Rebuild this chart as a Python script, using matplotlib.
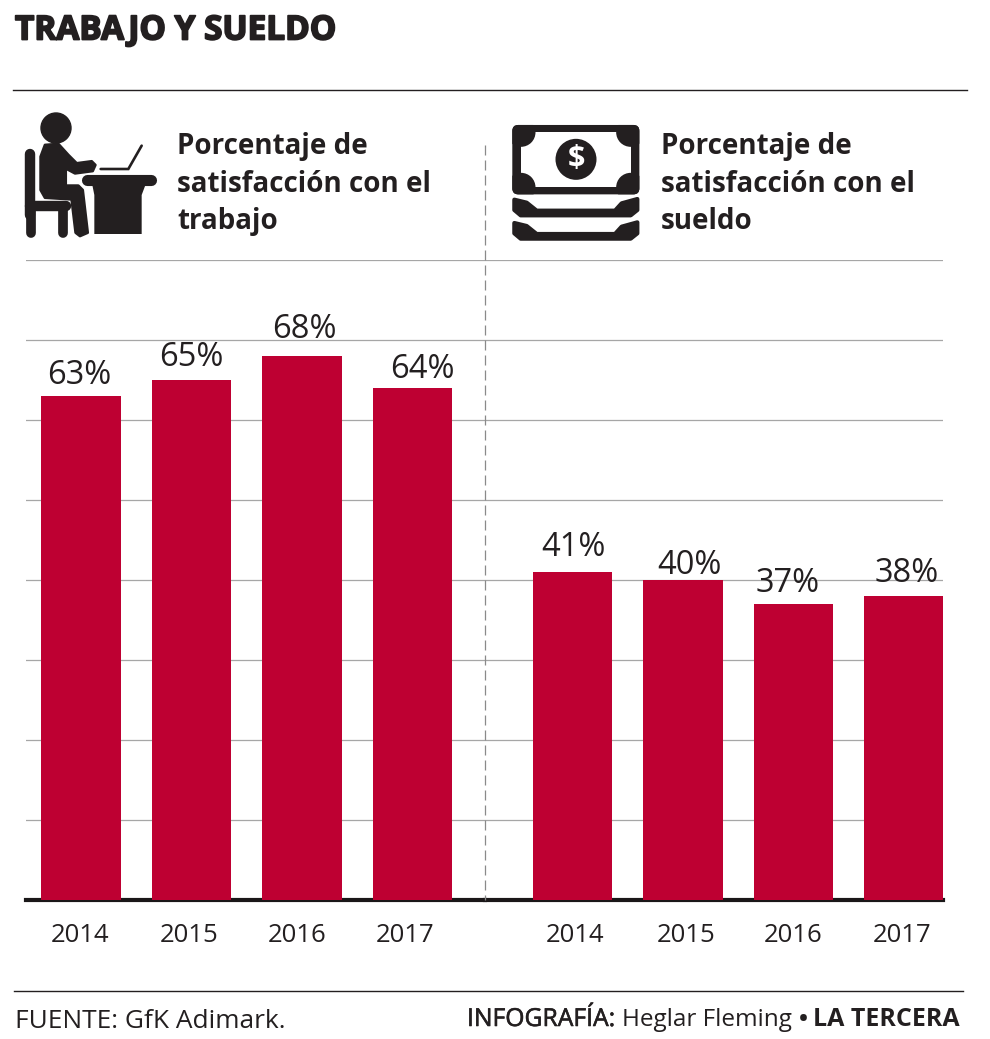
import matplotlib
matplotlib.use('Agg')
import matplotlib.pyplot as plt
import matplotlib.patheffects as pe
from matplotlib.patches import Circle, FancyBboxPatch, Polygon, Rectangle

W, H = 990, 1039
DARK = '#231f20'
RED = '#be0032'
GRID = '#a6a6a6'

years = ['2014', '2015', '2016', '2017']
trabajo = [63, 65, 68, 64]
sueldo = [41, 40, 37, 38]
grid_values = [10, 20, 30, 40, 50, 60, 70, 80]

# desplazamiento en px de cada etiqueta respecto a su barra
trabajo_label_dx = [-2, 0, 2, 10]
trabajo_label_dy = [21, 22, 27, 19]
sueldo_label_dx = [1, 6, -6, 3]
sueldo_label_dy = [24, 14, 21, 23]
trabajo_year_dx = [-1, -2, -5, -7]
sueldo_year_dx = [3, 3, 0, -2]

plt.rcParams['font.family'] = ['Open Sans', 'DejaVu Sans']
fig = plt.figure(figsize=(W / 100, H / 100), dpi=100, facecolor='white')


def px_axes(left, right, top, bottom):
    return fig.add_axes([left / W, 1 - bottom / H, (right - left) / W, (bottom - top) / H])


def draw_panel(ax, values, label_dx, label_dy, year_dx, first_center):
    step = 110.5
    left_px, right_px = ax.get_position().x0 * W, ax.get_position().x1 * W
    ax.set_xlim((left_px - first_center) / step, (right_px - first_center) / step)
    ax.set_ylim(0, 80)
    ax.axis('off')
    for v in grid_values:
        ax.axhline(v, color=GRID, lw=0.9, zorder=1)
    xs = range(len(values))
    ax.axhline(0, color='#1a1718', lw=3, zorder=2, clip_on=False)
    ax.bar(xs, values, width=0.72, color=RED, zorder=3)
    for x, v, dx, dy, ydx, yr in zip(xs, values, label_dx, label_dy, year_dx, years):
        ax.annotate(f'{v}%', (x, v), xytext=(dx * 0.72, dy * 0.72), textcoords='offset points',
                    ha='center', va='center', fontsize=23.5, color=DARK, zorder=5)
        ax.annotate(yr, (x, 0), xytext=(ydx * 0.72, -25.5), textcoords='offset points',
                    ha='center', va='center', fontsize=18.5, color=DARK)


ax_left = px_axes(26, 485, 260, 900)
ax_right = px_axes(485, 943, 260, 900)
draw_panel(ax_left, trabajo, trabajo_label_dx, trabajo_label_dy, trabajo_year_dx, 81)
draw_panel(ax_right, sueldo, sueldo_label_dx, sueldo_label_dy, sueldo_year_dx, 572.5)

# capa de decoracion en coordenadas de pixel
deco = fig.add_axes([0, 0, 1, 1], zorder=10)
deco.set_xlim(0, W)
deco.set_ylim(H, 0)
deco.axis('off')
deco.patch.set_alpha(0)

deco.plot([13, 967], [90, 90], color=DARK, lw=1)
deco.plot([14, 963], [991, 991], color=DARK, lw=1)
deco.plot([485, 485], [145, 900], color='#8a8a8a', lw=0.9, dashes=(8, 4))

title = deco.text(15, 31, 'TRABAJO Y SUELDO', fontsize=24, fontweight='bold', color=DARK, va='center', ha='left')
title.set_path_effects([pe.withStroke(linewidth=1.3, foreground=DARK)])

head_lines = ['Porcentaje de', 'satisfacción con el']
for x0, last in [(177, 'trabajo'), (661, 'sueldo')]:
    for base, line in zip([154, 192, 229], head_lines + [last]):
        deco.text(x0, base, line, fontsize=20, fontweight='bold', color=DARK, va='baseline', ha='left')

deco.text(15, 1028, 'FUENTE: GfK Adimark.', fontsize=18.9, color=DARK, va='baseline', ha='left')
medium = [pe.withStroke(linewidth=0.4, foreground=DARK)]
deco.text(467, 1026, 'INFOGRAFÍA:', fontsize=17.8, color=DARK, va='baseline', ha='left', path_effects=medium)
deco.text(622, 1026, 'Heglar Fleming', fontsize=17.5, color=DARK, va='baseline', ha='left')
deco.text(803, 1026, '•', fontsize=17.5, color=DARK, va='baseline', ha='center', fontweight='bold')
deco.text(960, 1026, 'LA TERCERA', fontsize=18, fontweight='bold', color=DARK, va='baseline', ha='right')


def z1(pts):
    return [(x / 3, 100 + y / 3) for x, y in pts]


deco.add_patch(Circle((56, 128), 15, color=DARK))
body = z1([(122, 170), (135, 135), (175, 132), (205, 165), (230, 190), (275, 184), (286, 195), (278, 213),
           (225, 220), (197, 205), (197, 257), (235, 257), (248, 270), (263, 398), (240, 408), (227, 398),
           (215, 298), (135, 293), (122, 270)])
deco.add_patch(Polygon(body, closed=True, facecolor=DARK, edgecolor=DARK, lw=2, joinstyle='round'))
for seg, lw in [([(90, 162), (90, 345)], 7.5), ([(90, 318), (198, 318)], 7.5),
                ([(92, 330), (92, 400)], 7), ([(190, 330), (190, 400)], 7),
                ([(262, 240), (452, 240)], 8), ([(302, 207), (385, 207), (425, 137)], 1.9)]:
    pts = z1(seg)
    deco.plot([p[0] for p in pts], [p[1] for p in pts], color=DARK, lw=lw, solid_capstyle='round',
              solid_joinstyle='miter')
deco.add_patch(Polygon(z1([(275, 245), (440, 245), (425, 285), (425, 402), (283, 402), (283, 285)]),
                       closed=True, color=DARK, lw=0))


# icono billetes
def z2(pts):
    return [(480 + x / 3, 100 + y / 3) for x, y in pts]


outer = FancyBboxPatch((480 + 105 / 3, 100 + 83 / 3), 365 / 3, 192 / 3, boxstyle='round,pad=2.7,rounding_size=6',
                       color=DARK, lw=0)
deco.add_patch(outer)
deco.add_patch(Rectangle(z2([(123, 97)])[0], 329 / 3, 165 / 3, color='white', lw=0))
for cx, cy in z2([(123, 97), (452, 97), (123, 262), (452, 262)]):
    c = Circle((cx, cy), 14.5, color=DARK, lw=0)
    deco.add_patch(c)
    c.set_clip_path(outer)
deco.add_patch(Circle(z2([(288, 178)])[0], 20.5, color=DARK, lw=0))
deco.text(*z2([(288, 178)])[0], '$', color='white', fontsize=22, fontweight='bold', ha='center', va='center')
for dy in [0, 70]:
    band = [(103, 299), (140, 308), (170, 332), (405, 332), (425, 310), (472, 297), (472, 330), (452, 346),
            (122, 346), (103, 330)]
    deco.add_patch(Polygon(z2([(x, y + dy) for x, y in band]), closed=True, facecolor=DARK, edgecolor=DARK,
                           lw=3, joinstyle='round'))

fig.savefig('out.png', dpi=100, facecolor='white')
